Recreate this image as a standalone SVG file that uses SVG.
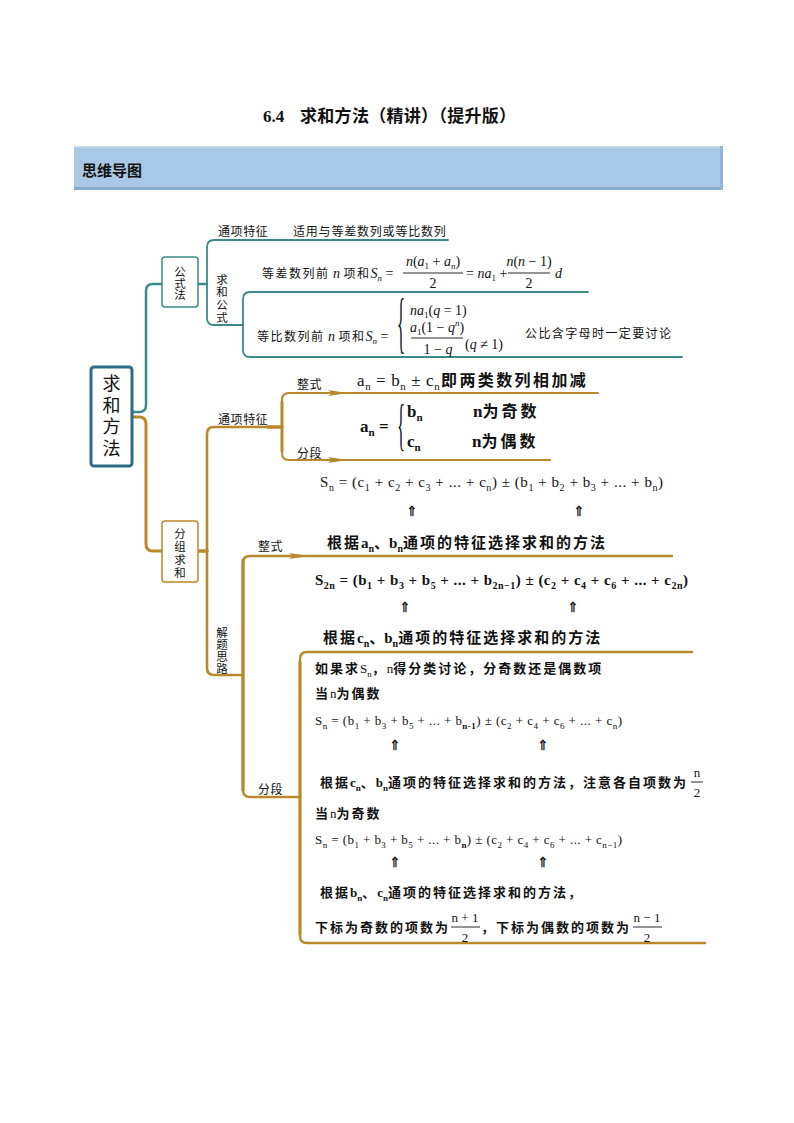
<svg xmlns="http://www.w3.org/2000/svg" width="794" height="1123" viewBox="0 0 794 1123">
<style>
text{font-family:"Liberation Serif","Noto Sans CJK SC",serif;fill:#111}
.cj{font-family:"Noto Sans CJK SC",sans-serif}
.cjb{font-family:"Noto Sans CJK SC",sans-serif;font-weight:bold}
.lab{font-family:"Noto Sans CJK SC",sans-serif;font-size:12px;letter-spacing:0.6px}
.vt{font-family:"Noto Sans CJK SC",sans-serif;font-size:11.5px;writing-mode:vertical-rl}
.teal{fill:none;stroke:#3b8b88;stroke-linecap:round;stroke-linejoin:round}
.gold{fill:none;stroke:#b8882b;stroke-linecap:round;stroke-linejoin:round}
.i{font-style:italic}
.b{font-weight:bold}
.arw{fill:#b8882b}
.up{font-family:"DejaVu Sans",sans-serif;font-size:14px;text-anchor:middle;fill:#000;stroke:#000;stroke-width:0.25}
.bar{stroke:#111;stroke-width:0.9}
</style>
<defs>
<path id="ah" d="M0,-3 L20,0 L0,3 L4,0 Z"/>
</defs>

<!-- title and banner -->
<text x="263" y="122" font-size="17" font-weight="bold">6.4<tspan x="300" letter-spacing="0.3">求和方法（精讲）（提升版）</tspan></text>
<rect x="74" y="146" width="649" height="44" fill="#a9c8e6"/>
<rect x="74" y="146" width="649" height="1.5" fill="#c6dbef"/>
<rect x="74" y="187" width="649" height="3" fill="#86a9d0"/>
<rect x="720" y="146" width="3" height="44" fill="#94b5da"/>
<text x="82" y="176" class="cjb" font-size="15">思维导图</text>

<!-- connectors -->
<g id="connectors">
<path class="teal" stroke-width="2.5" d="M132,412 H139 Q146,412 146,405 V291 Q146,284 153,284 H162"/>
<path class="teal" stroke-width="2.5" d="M198,284 H207"/>
<path class="teal" stroke-width="1.8" d="M448,240 H214 Q207,240 207,247 V318 Q207,325 214,325 H243"/>
<path class="teal" stroke-width="1.8" d="M588,292 H250 Q243,292 243,299 V350 Q243,357 250,357 H682"/>

<path class="gold" stroke-width="3" d="M132,417 H139 Q146,417 146,424 V544 Q146,551 153,551 H162"/>
<path class="gold" stroke-width="3.5" d="M198,551 H207"/>
<path class="gold" stroke-width="2.6" d="M272,427 H214 Q207,427 207,434 V668 Q207,675 214,675 H243"/>
<path class="gold" stroke-width="3.5" d="M268,427 H282"/>
<path class="gold" stroke-width="2" d="M598,393 H289 Q282,393 282,400 V453 Q282,460 289,460 H550"/>
<path class="gold" stroke-width="3" d="M282,402 V451"/>
<path class="gold" stroke-width="2.4" d="M672,556 H250 Q243,556 243,563 V790 Q243,797 250,797 H300"/>
<path class="gold" stroke-width="3.2" d="M243,560 V790"/>
<path class="gold" stroke-width="2.4" d="M692,652 H307 Q300,652 300,659 V936 Q300,943 307,943 H705"/>
<path class="gold" stroke-width="3" d="M300,662 V934"/>
<use href="#ah" class="arw" transform="translate(328,393)"/>
<use href="#ah" class="arw" transform="translate(328,460)"/>
<use href="#ah" class="arw" transform="translate(289,556)"/>
</g>

<!-- root -->
<g id="root">
<rect x="91" y="367" width="41" height="99" rx="3" fill="#fff" stroke="#2e6c86" stroke-width="3"/>
<text class="vt" style="font-size:18px;letter-spacing:3.5px" x="111.5" y="374.5">求和方法</text>
</g>

<!-- 公式法 -->
<g id="n-gongshifa">
<rect x="162" y="257" width="36" height="50" rx="3" fill="#fff" stroke="#3b8b88" stroke-width="1.5"/>
<text class="vt" x="180" y="266.3">公式法</text>
</g>

<g id="n-tongxiang1">
<text class="lab" x="218" y="236">通项特征</text>
<text class="lab" x="293" y="236" style="letter-spacing:0.8px">适用与等差数列或等比数列</text>
</g>

<g id="n-qiuhegongshi">
<text class="vt" style="letter-spacing:1.3px" x="222" y="273.4">求和公式</text>
</g>

<g id="n-dengcha">
<text x="262" y="278" font-size="14"><tspan class="cj" font-size="12" letter-spacing="1.5">等差数列前</tspan><tspan class="i"> n </tspan><tspan class="cj" font-size="12" letter-spacing="1.5">项和</tspan><tspan class="i">S</tspan><tspan class="i" font-size="9" dy="3">n</tspan><tspan dy="-3"> =</tspan></text>
<text x="433" y="266" text-anchor="middle" font-size="14"><tspan class="i">n</tspan>(<tspan class="i">a</tspan><tspan font-size="9" dy="3">1</tspan><tspan dy="-3"> + </tspan><tspan class="i">a</tspan><tspan class="i" font-size="9" dy="3">n</tspan><tspan dy="-3">)</tspan></text>
<line class="bar" x1="403" y1="273" x2="463" y2="273"/>
<text x="433" y="288" text-anchor="middle" font-size="14">2</text>
<text x="466" y="278" font-size="14">= <tspan class="i">na</tspan><tspan font-size="9" dy="3">1</tspan><tspan dy="-3"> +</tspan></text>
<text x="529" y="266" text-anchor="middle" font-size="14"><tspan class="i">n</tspan>(<tspan class="i">n</tspan> − 1)</text>
<line class="bar" x1="508" y1="273" x2="550" y2="273"/>
<text x="529" y="288" text-anchor="middle" font-size="14">2</text>
<text x="555" y="278" class="i" font-size="14">d</text>
</g>

<g id="n-dengbi">
<text x="257" y="341" font-size="14"><tspan class="cj" font-size="12" letter-spacing="1.5">等比数列前</tspan><tspan class="i"> n </tspan><tspan class="cj" font-size="12" letter-spacing="1.5">项和</tspan><tspan class="i">S</tspan><tspan class="i" font-size="9" dy="3">n</tspan><tspan dy="-3"> =</tspan></text>
<text transform="translate(397,344.5) scale(0.42,1.7)" font-size="40">{</text>
<text x="410" y="315" font-size="14"><tspan class="i">na</tspan><tspan font-size="9" dy="3">1</tspan><tspan dy="-3">(</tspan><tspan class="i">q</tspan> = 1)</text>
<text x="437" y="332" text-anchor="middle" font-size="14"><tspan class="i">a</tspan><tspan font-size="9" dy="3">1</tspan><tspan dy="-3">(1 − </tspan><tspan class="i">q</tspan><tspan class="i" font-size="9" dy="-6">n</tspan><tspan dy="6">)</tspan></text>
<line class="bar" x1="411" y1="338" x2="463" y2="338"/>
<text x="438" y="354" text-anchor="middle" font-size="14">1 − <tspan class="i">q</tspan></text>
<text x="465" y="349" font-size="14">(<tspan class="i">q</tspan> ≠ 1)</text>
<text x="525" y="338" class="cj" font-size="12" letter-spacing="1.4">公比含字母时一定要讨论</text>
</g>

<!-- 分组求和 -->
<g id="n-fenzu">
<rect x="162" y="521" width="36" height="61" rx="3" fill="#fff" stroke="#b8882b" stroke-width="1.5"/>
<text class="vt" style="letter-spacing:1.5px" x="180" y="527.8">分组求和</text>
</g>

<g id="n-tongxiang2">
<text class="lab" x="218" y="424">通项特征</text>
</g>

<g id="n-zhengshi1">
<text class="lab" x="297" y="389">整式</text>
<text x="357" y="386" font-size="17" letter-spacing="0.6">a<tspan font-size="11" dy="4">n</tspan><tspan dy="-4"> = b</tspan><tspan font-size="11" dy="4">n</tspan><tspan dy="-4"> ± c</tspan><tspan font-size="11" dy="4">n</tspan></text>
<text x="441" y="386" class="cjb" font-size="16" letter-spacing="2.4">即两类数列相加减</text>
</g>

<g id="n-fenduan1">
<text x="360" y="432" class="b" font-size="17">a<tspan font-size="11" dy="4">n</tspan><tspan dy="-4"> =</tspan></text>
<text transform="translate(397,444) scale(0.42,1.4)" font-size="40">{</text>
<text x="407" y="417" class="b" font-size="17">b<tspan font-size="11" dy="4">n</tspan></text>
<text x="473" y="417" font-size="17"><tspan class="b">n</tspan><tspan class="cjb" font-size="16" letter-spacing="3">为奇数</tspan></text>
<text x="407" y="447" class="b" font-size="17">c<tspan font-size="11" dy="4">n</tspan></text>
<text x="472" y="447" font-size="17"><tspan class="b">n</tspan><tspan class="cjb" font-size="16" letter-spacing="3">为偶数</tspan></text>
<text class="lab" x="297" y="458">分段</text>
<text x="320" y="487" font-size="15" textLength="343" lengthAdjust="spacing">S<tspan font-size="10" dy="4">n</tspan><tspan dy="-4"> = (c</tspan><tspan font-size="10" dy="4">1</tspan><tspan dy="-4"> + c</tspan><tspan font-size="10" dy="4">2</tspan><tspan dy="-4"> + c</tspan><tspan font-size="10" dy="4">3</tspan><tspan dy="-4"> + ... + c</tspan><tspan font-size="10" dy="4">n</tspan><tspan dy="-4">) ± (b</tspan><tspan font-size="10" dy="4">1</tspan><tspan dy="-4"> + b</tspan><tspan font-size="10" dy="4">2</tspan><tspan dy="-4"> + b</tspan><tspan font-size="10" dy="4">3</tspan><tspan dy="-4"> + ... + b</tspan><tspan font-size="10" dy="4">n</tspan><tspan dy="-4">)</tspan></text>
<text class="up" x="412" y="516">⇑</text>
<text class="up" x="579" y="516">⇑</text>
</g>

<g id="n-jieti">
<text class="vt" style="letter-spacing:0.5px" x="222" y="626.5">解题思路</text>
</g>

<g id="n-zhengshi2">
<text class="lab" x="258" y="551">整式</text>
<text x="327" y="548" font-size="15"><tspan class="cjb" letter-spacing="2">根据</tspan><tspan class="b">a</tspan><tspan class="b" font-size="10" dy="4">n</tspan><tspan dy="-4" class="cjb">、</tspan><tspan class="b">b</tspan><tspan class="b" font-size="10" dy="4">n</tspan><tspan dy="-4" class="cjb" letter-spacing="2">通项的特征选择求和的方法</tspan></text>
<text x="315" y="585" font-size="15" font-weight="bold" textLength="373" lengthAdjust="spacing">S<tspan font-size="10" dy="4">2n</tspan><tspan dy="-4"> = (b</tspan><tspan font-size="10" dy="4">1</tspan><tspan dy="-4"> + b</tspan><tspan font-size="10" dy="4">3</tspan><tspan dy="-4"> + b</tspan><tspan font-size="10" dy="4">5</tspan><tspan dy="-4"> + ... + b</tspan><tspan font-size="10" dy="4">2n−1</tspan><tspan dy="-4">) ± (c</tspan><tspan font-size="10" dy="4">2</tspan><tspan dy="-4"> + c</tspan><tspan font-size="10" dy="4">4</tspan><tspan dy="-4"> + c</tspan><tspan font-size="10" dy="4">6</tspan><tspan dy="-4"> + ... + c</tspan><tspan font-size="10" dy="4">2n</tspan><tspan dy="-4">)</tspan></text>
<text class="up" x="405" y="612">⇑</text>
<text class="up" x="573" y="612">⇑</text>
<text x="323" y="643" font-size="15"><tspan class="cjb" letter-spacing="2">根据</tspan><tspan class="b">c</tspan><tspan class="b" font-size="10" dy="4">n</tspan><tspan dy="-4" class="cjb">、</tspan><tspan class="b">b</tspan><tspan class="b" font-size="10" dy="4">n</tspan><tspan dy="-4" class="cjb" letter-spacing="2">通项的特征选择求和的方法</tspan></text>
</g>

<g id="n-fenduan2">
<text class="lab" x="258" y="794">分段</text>
<text x="315" y="673" font-size="13"><tspan class="cjb" letter-spacing="2">如果求</tspan>S<tspan font-size="9" dy="3.5">n</tspan><tspan dy="-3.5" class="cjb" letter-spacing="2">，</tspan>n<tspan class="cjb" letter-spacing="2">得分类讨论，分奇数还是偶数项</tspan></text>
<text x="315" y="698" font-size="13"><tspan class="cjb" letter-spacing="2">当</tspan>n<tspan class="cjb" letter-spacing="2">为偶数</tspan></text>
<text x="315" y="725" font-size="13" textLength="307" lengthAdjust="spacing">S<tspan font-size="9" dy="3.5">n</tspan><tspan dy="-3.5"> = (b</tspan><tspan font-size="9" dy="3.5">1</tspan><tspan dy="-3.5"> + b</tspan><tspan font-size="9" dy="3.5">3</tspan><tspan dy="-3.5"> + b</tspan><tspan font-size="9" dy="3.5">5</tspan><tspan dy="-3.5"> + ... + b</tspan><tspan font-size="9" dy="3.5" font-weight="bold">n-1</tspan><tspan dy="-3.5">) ± (c</tspan><tspan font-size="9" dy="3.5">2</tspan><tspan dy="-3.5"> + c</tspan><tspan font-size="9" dy="3.5">4</tspan><tspan dy="-3.5"> + c</tspan><tspan font-size="9" dy="3.5">6</tspan><tspan dy="-3.5"> + ... + c</tspan><tspan font-size="9" dy="3.5">n</tspan><tspan dy="-3.5">)</tspan></text>
<text class="up" x="395" y="750">⇑</text>
<text class="up" x="543" y="750">⇑</text>
<text x="320" y="787" font-size="13"><tspan class="cjb" letter-spacing="2">根据</tspan><tspan class="b">c</tspan><tspan class="b" font-size="9" dy="3.5">n</tspan><tspan dy="-3.5" class="cjb" letter-spacing="2">、</tspan><tspan class="b">b</tspan><tspan class="b" font-size="9" dy="3.5">n</tspan><tspan dy="-3.5" class="cjb" letter-spacing="2">通项的特征选择求和的方法，注意各自项数为</tspan></text>
<text x="697" y="777" text-anchor="middle" font-size="13">n</text>
<line class="bar" x1="691" y1="782" x2="703" y2="782"/>
<text x="697" y="797" text-anchor="middle" font-size="13">2</text>
<text x="315" y="818" font-size="13"><tspan class="cjb" letter-spacing="2">当</tspan>n<tspan class="cjb" letter-spacing="2">为奇数</tspan></text>
<text x="315" y="844" font-size="13" textLength="307" lengthAdjust="spacing">S<tspan font-size="9" dy="3.5">n</tspan><tspan dy="-3.5"> = (b</tspan><tspan font-size="9" dy="3.5">1</tspan><tspan dy="-3.5"> + b</tspan><tspan font-size="9" dy="3.5">3</tspan><tspan dy="-3.5"> + b</tspan><tspan font-size="9" dy="3.5">5</tspan><tspan dy="-3.5"> + ... + b</tspan><tspan font-size="9" dy="3.5" font-weight="bold">n</tspan><tspan dy="-3.5">) ± (c</tspan><tspan font-size="9" dy="3.5">2</tspan><tspan dy="-3.5"> + c</tspan><tspan font-size="9" dy="3.5">4</tspan><tspan dy="-3.5"> + c</tspan><tspan font-size="9" dy="3.5">6</tspan><tspan dy="-3.5"> + ... + c</tspan><tspan font-size="9" dy="3.5">n−1</tspan><tspan dy="-3.5">)</tspan></text>
<text class="up" x="395" y="867">⇑</text>
<text class="up" x="543" y="867">⇑</text>
<text x="320" y="897" font-size="13"><tspan class="cjb" letter-spacing="2">根据</tspan><tspan class="b">b</tspan><tspan class="b" font-size="9" dy="3.5">n</tspan><tspan dy="-3.5" class="cjb" letter-spacing="2">、</tspan><tspan class="b">c</tspan><tspan class="b" font-size="9" dy="3.5">n</tspan><tspan dy="-3.5" class="cjb" letter-spacing="2">通项的特征选择求和的方法，</tspan></text>
<text x="315" y="932" class="cjb" font-size="13" letter-spacing="2">下标为奇数的项数为</text>
<text x="465" y="922" text-anchor="middle" font-size="13">n + 1</text>
<line class="bar" x1="451" y1="927" x2="480" y2="927"/>
<text x="465" y="942" text-anchor="middle" font-size="13">2</text>
<text x="481" y="932" class="cjb" font-size="13" letter-spacing="2">，下标为偶数的项数为</text>
<text x="647" y="922" text-anchor="middle" font-size="13">n − 1</text>
<line class="bar" x1="633" y1="927" x2="662" y2="927"/>
<text x="647" y="942" text-anchor="middle" font-size="13">2</text>
</g>
</svg>
